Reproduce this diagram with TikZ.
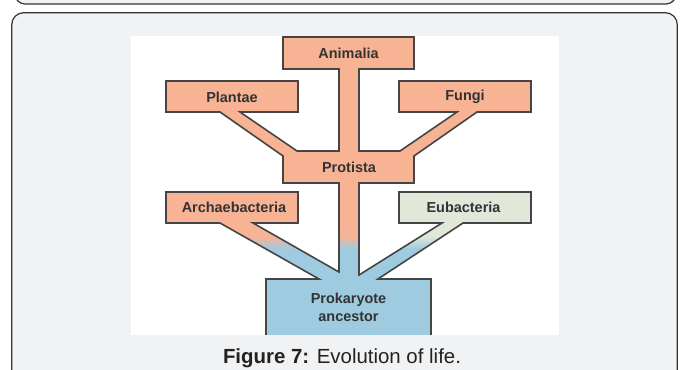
\documentclass[tikz,border=0pt]{standalone}
\usepackage{fontspec}
\setmainfont{Liberation Sans}
\definecolor{salmon}{HTML}{F8B294}
\definecolor{skyb}{HTML}{9FCBE1}
\definecolor{sage}{HTML}{E0E8DA}
\definecolor{edgec}{HTML}{454545}
\definecolor{framebg}{HTML}{F1F2F4}
\definecolor{framec}{HTML}{333333}
\definecolor{lblc}{HTML}{333333}
\definecolor{capc}{HTML}{222222}
\tikzset{
  framebox/.style={draw=framec, line width=1.2bp, fill=framebg, rounded corners=12bp},
  lbl/.style={font=\bfseries\fontsize{14.5}{18}\selectfont, text=lblc, inner sep=0pt},
  treeshape/.style={insert path={
    (283,37) -- (414,37) -- (414,69) -- (359,69) -- (359,151) -- (400,151)
    -- (457,112) -- (399,112) -- (399,81) -- (531,81) -- (531,112) -- (477,112)
    -- (414,156) -- (414,183) -- (359,183) -- (359,275) -- (442,223) -- (399,223)
    -- (399,192) -- (531,192) -- (531,223) -- (463,223) -- (378,279) -- (431,279)
    -- (431,345) -- (266,345) -- (266,279) -- (319,279) -- (220,223) -- (166,223)
    -- (166,192) -- (298,192) -- (298,223) -- (253,223) -- (339,272) -- (339,183)
    -- (283,183) -- (283,156) -- (220,112) -- (166,112) -- (166,81) -- (298,81)
    -- (298,112) -- (240,112) -- (297,151) -- (339,151) -- (339,69) -- (283,69) -- cycle}},
  treeline/.style={draw=edgec, line width=1.6bp, line join=miter}
}
\begin{document}
\begin{tikzpicture}[x=1bp,y=-1bp]
\useasboundingbox (0,0) rectangle (683,369);
% frames
\begin{scope}
  \clip (0,0) rectangle (683,369);
  \path[framebox, rounded corners=10bp] (15,-40) rectangle (676,4);
  \path[framebox] (11.7,12.7) rectangle (677.3,420);
\end{scope}
% white image panel
\fill[white] (131,35.7) rectangle (559,334.5);
% tree fill
\begin{scope}
  \clip (131,35.7) rectangle (559,334.5);
  \begin{scope}
    \clip[treeshape];
    \fill[salmon] (131,35.7) rectangle (559,240);
    \fill[sage] (370,186) rectangle (559,240);
    \shade[top color=salmon, bottom color=skyb] (131,236) rectangle (370,249);
    \shade[top color=sage, bottom color=skyb] (370,236) rectangle (559,249);
    \fill[skyb] (131,248.5) rectangle (559,340);
  \end{scope}
  \path[treeline, treeshape];
\end{scope}
% labels
\node[lbl] (animalia) at (348.5,53) {Animalia};
\node[lbl] (plantae) at (232,97) {Plantae};
\node[lbl] (fungi) at (465,96.5) {Fungi};
\node[lbl] (protista) at (349,167) {Protista};
\node[lbl] (archae) at (234,207.5) {Archaebacteria};
\node[lbl] (eubact) at (463.5,207.5) {Eubacteria};
\node[lbl, align=center] (prok) at (348.5,307) {Prokaryote\\ancestor};
% caption
\node[font=\fontsize{20.5}{24}\selectfont, text=capc, anchor=base, inner sep=0pt] (caption) at (342,363) {\textbf{Figure 7:} Evolution of life.};
\end{tikzpicture}
\end{document}
